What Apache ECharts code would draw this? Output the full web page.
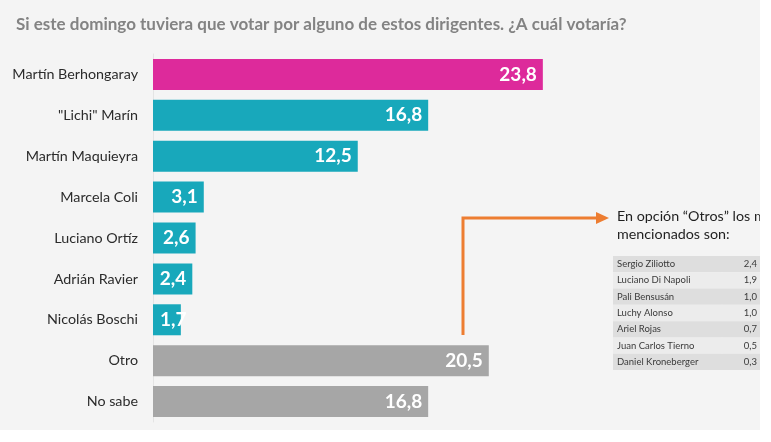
<!DOCTYPE html>
<html>
<head>
<meta charset="utf-8">
<script src="https://cdn.jsdelivr.net/npm/echarts@6/dist/echarts.min.js"></script>
<style>
  body { margin: 0; background: #ffffff; }
  #main { width: 760px; height: 430px; }
</style>
</head>
<body>
<div id="main"></div>
<script>
var titulo = 'Si este domingo tuviera que votar por alguno de estos dirigentes. ¿A cuál votaría?';
var dirigentes = ['Martín Berhongaray', '"Lichi" Marín', 'Martín Maquieyra', 'Marcela Coli',
  'Luciano Ortíz', 'Adrián Ravier', 'Nicolás Boschi', 'Otro', 'No sabe'];
var votos = [23.8, 16.8, 12.5, 3.1, 2.6, 2.4, 1.7, 20.5, 16.8];
var colores = ['#dd2a9b', '#18a8bb', '#18a8bb', '#18a8bb', '#18a8bb', '#18a8bb', '#18a8bb', '#a6a6a6', '#a6a6a6'];

// tabla de "Otros"
var otrosNombres = ['Sergio Ziliotto', 'Luciano Di Napoli', 'Pali Bensusán', 'Luchy Alonso',
  'Ariel Rojas', 'Juan Carlos Tierno', 'Daniel Kroneberger'];
var otrosValores = [2.4, 1.9, 1.0, 1.0, 0.7, 0.5, 0.3];

function coma(v) { return v.toFixed(1).replace('.', ','); }

var myChart = echarts.init(document.getElementById('main'));

var option = {
  backgroundColor: '#f4f4f4',
  textStyle: { fontFamily: 'Lato' },
  title: {
    text: titulo,
    left: 11, top: 11,
    textStyle: { fontSize: 17, fontWeight: 'bold', color: '#838383', fontFamily: 'Lato' }
  },
  grid: [
    { left: 153, top: 54, width: 491.4, height: 368 },
    { left: 613, top: 256, width: 152, height: 114 }
  ],
  xAxis: [
    { gridIndex: 0, type: 'value', min: 0, max: 30, show: false },
    { gridIndex: 1, type: 'value', min: 0, max: 1, show: false }
  ],
  yAxis: [
    {
      gridIndex: 0, type: 'category', inverse: true, data: dirigentes,
      axisLine: { show: true, lineStyle: { color: '#e4e4e4', width: 1 } },
      axisTick: { show: false },
      axisLabel: { margin: 15, fontSize: 14.3, color: '#2b2b2b', fontFamily: 'Lato' }
    },
    {
      gridIndex: 1, type: 'category', inverse: true, data: otrosNombres,
      axisLine: { show: false }, axisTick: { show: false },
      axisLabel: { inside: true, interval: 0, margin: 4, fontSize: 9.5, color: '#3a3a3a', fontFamily: 'Lato' },
      splitArea: { show: true, interval: 0, areaStyle: { color: ['#dedede', '#ececec'] } }
    },
    {
      gridIndex: 1, type: 'category', inverse: true, position: 'right',
      data: otrosValores.map(coma),
      axisLine: { show: false }, axisTick: { show: false },
      axisLabel: { inside: true, interval: 0, margin: 3, fontSize: 9.5, color: '#3a3a3a', fontFamily: 'Lato' }
    }
  ],
  series: [
    {
      type: 'bar',
      xAxisIndex: 0, yAxisIndex: 0,
      barWidth: 31,
      data: votos.map(function (v, i) {
        var item = { value: v, itemStyle: { color: colores[i] } };
        if (v < 2) item.label = { position: 'insideLeft', distance: 7 };
        return item;
      }),
      label: {
        show: true,
        position: 'insideRight',
        distance: 6,
        formatter: function (p) { return coma(p.value); },
        color: '#ffffff',
        fontSize: 19,
        fontWeight: 'bold',
        fontFamily: 'Lato'
      }
    }
  ],
  graphic: [
    {
      type: 'polyline',
      shape: { points: [[463, 335], [463, 218], [598, 218]] },
      style: { stroke: '#ed7d31', lineWidth: 3, fill: null }
    },
    {
      type: 'polygon',
      shape: { points: [[596, 212], [609, 218], [596, 224]] },
      style: { fill: '#ed7d31' }
    },
    {
      type: 'text', left: 617, top: 209,
      style: { text: 'En opción “Otros” los más', fontSize: 14.3, fill: '#1f1f1f', fontFamily: 'Lato' }
    },
    {
      type: 'text', left: 617, top: 227,
      style: { text: 'mencionados son:', fontSize: 14.3, fill: '#1f1f1f', fontFamily: 'Lato' }
    },
    {
      type: 'line',
      shape: { x1: 722, y1: 256, x2: 722, y2: 370 },
      style: { stroke: '#f8f8f8', lineWidth: 1.5 }
    }
  ]
};
myChart.setOption(option);
</script>
</body>
</html>
